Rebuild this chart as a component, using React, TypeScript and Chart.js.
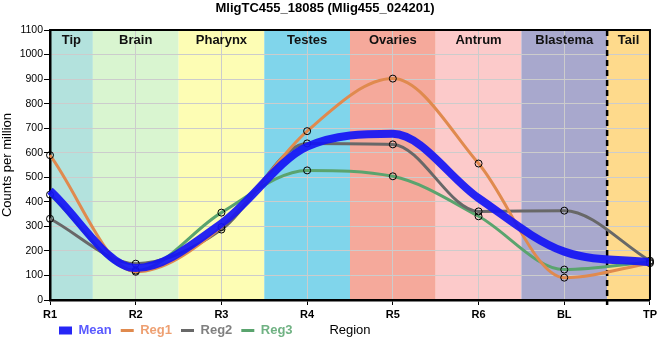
import { useEffect, useRef } from 'react';
import { Chart, registerables } from 'chart.js';

Chart.register(...registerables);

const chartTitle = 'MligTC455_18085 (Mlig455_024201)';
const regions = ['R1', 'R2', 'R3', 'R4', 'R5', 'R6', 'BL', 'TP'];
const bandNames = ['Tip', 'Brain', 'Pharynx', 'Testes', 'Ovaries', 'Antrum', 'Blastema', 'Tail'];
const bandColors = ['#b3e2dd', '#d9f5d0', '#fdfdb4', '#80d5eb', '#f5a99b', '#fccaca', '#a8a8cd', '#feda8c'];

const meanValues = [445, 130, 312, 625, 677, 415, 197, 154];
const reg1Values = [590, 115, 297, 688, 902, 556, 91, 150];
const reg2Values = [331, 148, 287, 638, 634, 361, 364, 160];
const reg3Values = [429, 120, 356, 528, 504, 341, 124, 155];

const seriesNames = ['Mean', 'Reg1', 'Reg2', 'Reg3'];
const lineColors = ['rgba(20,20,245,0.92)', '#e08a4e', '#686868', '#5aa46e'];
const legendTextColors = ['#5a5aff', '#eea072', '#808080', '#70b283'];

const FONT = "'Liberation Sans', Arial, sans-serif";

const bandsPlugin = {
  id: 'bands',
  afterLayout(chart: any) {
    // let the x tick labels draw past the shortened axis box
    const xs = chart.scales.x;
    if (xs) xs.bottom = xs.top + 24;
  },
  beforeDraw(chart: any) {
    const { ctx, chartArea } = chart;
    const xs = chart.scales.x;
    const n = regions.length;
    ctx.save();
    for (let i = 0; i < n; i++) {
      const x0 = i === 0 ? chartArea.left : (xs.getPixelForValue(i - 1) + xs.getPixelForValue(i)) / 2;
      const x1 = i === n - 1 ? chartArea.right : (xs.getPixelForValue(i) + xs.getPixelForValue(i + 1)) / 2;
      ctx.fillStyle = bandColors[i];
      ctx.fillRect(x0, chartArea.top, x1 - x0, chartArea.bottom - chartArea.top);
    }
    ctx.restore();
  },
  beforeDatasetsDraw(chart: any) {
    const { ctx, chartArea } = chart;
    const xs = chart.scales.x;
    const n = regions.length;
    ctx.save();
    ctx.font = `bold 13px ${FONT}`;
    ctx.fillStyle = '#111';
    ctx.textAlign = 'center';
    ctx.textBaseline = 'middle';
    for (let i = 0; i < n; i++) {
      const x0 = i === 0 ? chartArea.left : (xs.getPixelForValue(i - 1) + xs.getPixelForValue(i)) / 2;
      const x1 = i === n - 1 ? chartArea.right : (xs.getPixelForValue(i) + xs.getPixelForValue(i + 1)) / 2;
      ctx.fillText(bandNames[i], (x0 + x1) / 2, chartArea.top + 10);
    }
    // dashed separator between Blastema and Tail
    const xd = (xs.getPixelForValue(n - 2) + xs.getPixelForValue(n - 1)) / 2;
    ctx.strokeStyle = '#000';
    ctx.lineWidth = 2.5;
    ctx.setLineDash([6, 4]);
    ctx.beginPath();
    ctx.moveTo(xd, chartArea.top);
    ctx.lineTo(xd, chartArea.bottom + 5);
    ctx.stroke();
    ctx.restore();
  },
  afterDraw(chart: any) {
    const { ctx, chartArea } = chart;
    ctx.save();
    ctx.strokeStyle = '#000';
    ctx.lineWidth = 2;
    ctx.beginPath();
    ctx.moveTo(chartArea.left, chartArea.top);
    ctx.lineTo(chartArea.right, chartArea.top);
    ctx.lineTo(chartArea.right, chartArea.bottom);
    ctx.stroke();
    // x-axis title, on the legend's line
    const lg = chart.legend;
    ctx.font = `13px ${FONT}`;
    ctx.fillStyle = '#000';
    ctx.textAlign = 'center';
    ctx.textBaseline = 'middle';
    ctx.fillText('Region', (chartArea.left + chartArea.right) / 2, lg.top + 9 + 6.5);
    ctx.restore();
  },
};

export default function App() {
  const ref = useRef<HTMLCanvasElement>(null);
  useEffect(() => {
    document.body.style.margin = '0';
    Chart.defaults.font.family = FONT;
    const valueSets = [meanValues, reg1Values, reg2Values, reg3Values];
    const datasets = seriesNames.map((name, i) => ({
      label: name,
      data: valueSets[i],
      borderColor: lineColors[i],
      backgroundColor: lineColors[i],
      borderWidth: i === 0 ? 8 : 3,
      cubicInterpolationMode: 'monotone' as const,
      pointRadius: i === 0 ? 0 : 3.5,
      pointHoverRadius: i === 0 ? 0 : 3.5,
      pointBorderColor: '#000',
      pointBackgroundColor: 'rgba(0,0,0,0)',
      pointBorderWidth: 1,
      fill: false,
    }));
    const chart = new Chart(ref.current!, {
      type: 'line',
      data: { labels: regions, datasets },
      plugins: [bandsPlugin],
      options: {
        animation: false,
        responsive: false,
        layout: { padding: { left: 0, right: 10, top: 0, bottom: 13 } },
        plugins: {
          title: {
            display: true,
            text: chartTitle,
            color: '#000',
            font: { size: 13, weight: 'bold', family: FONT },
            padding: { top: 1, bottom: 13.4 },
          },
          legend: {
            position: 'bottom',
            align: 'start',
            fullSize: false,
            labels: {
              usePointStyle: true,
              pointStyleWidth: 13,
              padding: 9,
              font: { size: 13, weight: 'bold', family: FONT },
              generateLabels: (c: any) =>
                c.data.datasets.map((ds: any, i: number) => ({
                  text: ds.label,
                  fillStyle: lineColors[i],
                  strokeStyle: lineColors[i],
                  lineWidth: i === 0 ? 8 : 3,
                  lineCap: 'butt',
                  pointStyle: 'line',
                  fontColor: legendTextColors[i],
                  datasetIndex: i,
                  hidden: false,
                })),
            },
          },
          tooltip: { enabled: false },
        },
        scales: {
          x: {
            type: 'category',
            offset: false,
            grid: { offset: false, color: '#cccccc', tickColor: '#000', tickLength: 5 },
            border: { color: '#000', width: 2.5 },
            ticks: {
              color: '#000',
              font: { size: 11, weight: 'bold', family: FONT },
              padding: 3,
              maxRotation: 0,
              autoSkip: false,
            },
            afterFit: (s: any) => {
              s.height = 15;
            },
          },
          y: {
            min: 0,
            max: 1100,
            grid: { color: '#cccccc', tickColor: '#000', tickLength: 6 },
            border: { color: '#000', width: 2.5 },
            ticks: {
              stepSize: 100,
              color: '#000',
              font: { size: 10.5, family: FONT },
              padding: 1,
              callback: (v: any) => String(v),
            },
            title: {
              display: true,
              text: 'Counts per million',
              color: '#000',
              font: { size: 13, family: FONT },
              padding: 0,
            },
            afterFit: (s: any) => {
              s.width = 50;
            },
          },
        },
      },
    });
    return () => chart.destroy();
  }, []);
  return <canvas ref={ref} width={660} height={360} style={{ display: 'block' }} />;
}
